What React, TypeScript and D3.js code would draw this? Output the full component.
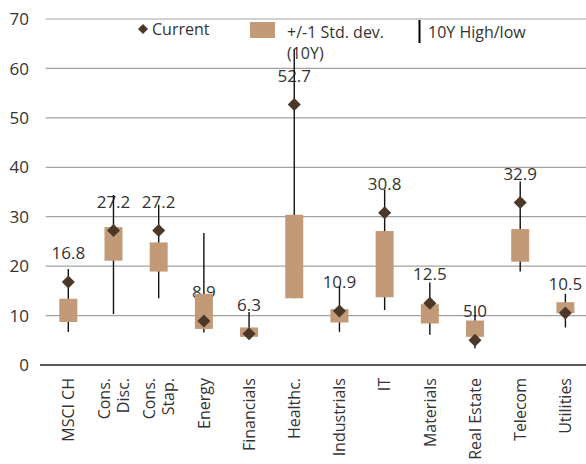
import React from "react";
import * as d3 from "d3";

// Sector P/E ranges: current value, +/-1 std. dev. band and 10Y high/low
const categories = [
  "MSCI CH", "Cons. Disc.", "Cons. Stap.", "Energy", "Financials", "Healthc.",
  "Industrials", "IT", "Materials", "Real Estate", "Telecom", "Utilities",
];
const current = [16.8, 27.2, 27.2, 8.9, 6.3, 52.7, 10.9, 30.8, 12.5, 5.0, 32.9, 10.5];
const sdHigh = [13.4, 27.9, 24.8, 14.4, 7.6, 30.4, 11.3, 27.1, 12.3, 9.0, 27.5, 12.7];
const sdLow = [8.7, 21.1, 18.9, 7.3, 5.7, 13.5, 8.6, 13.7, 8.4, 5.7, 20.9, 10.5];
const high10y = [19.4, 34.4, 32.4, 26.7, 10.7, 63.8, 15.9, 35.5, 16.7, 12.0, 37.1, 14.4];
const low10y = [6.7, 10.3, 13.5, 6.6, 5.5, 13.5, 6.7, 11.1, 6.1, 3.4, 18.9, 7.6];
const yTicks = [0, 10, 20, 30, 40, 50, 60, 70];

const W = 586;
const H = 464;
const FONT = "'Open Sans', 'Noto Sans', sans-serif";
const TEXT = "#333333";
const BOX = "#c39a78";
const DOT = "#4b3828";

export default function App() {
  const x = d3.scaleBand<string>().domain(categories).range([45.7, 588]).paddingInner(0).paddingOuter(0);
  const y = d3.scaleLinear().domain([0, 70]).range([365, 19]);
  const boxW = 18;
  const half = 6.5;
  const diamond = (cx: number, cy: number) =>
    `M${cx},${cy - half}L${cx + half},${cy}L${cx},${cy + half}L${cx - half},${cy}Z`;
  const cxOf = (c: string) => (x(c) ?? 0) + x.bandwidth() / 2;

  return (
    <div style={{ position: "absolute", left: 0, top: 0 }}>
      <svg width={W} height={H} style={{ display: "block", background: "#fff" }} fontFamily={FONT}>
        {/* gridlines and y tick labels */}
        {yTicks.map((t) => (
          <g key={t}>
            <line
              x1={t === 0 ? 40 : 45.7}
              x2={W}
              y1={y(t)}
              y2={y(t)}
              stroke={t === 0 ? "#222" : "#a3a3a3"}
              strokeWidth={t === 0 ? 1.6 : 1.2}
            />
            <text x={29} y={y(t)} dy="0.36em" textAnchor="end" fontSize={17} fill={TEXT}>
              {t}
            </text>
          </g>
        ))}

        {/* legend */}
        <path d={`M143,24L148,29L143,34L138,29Z`} fill={DOT} />
        <text x={152} y={35} fontSize={16} fill={TEXT}>Current</text>
        <rect x={250} y={22} width={25} height={16} fill={BOX} />
        <text x={287} y={37.5} fontSize={16} fill={TEXT}>
          <tspan x={287}>+/-1 Std. dev.</tspan>
          <tspan x={287} dy={21}>(10Y)</tspan>
        </text>
        <line x1={419.5} x2={419.5} y1={20} y2={43} stroke="#000" strokeWidth={2} />
        <text x={428} y={38} fontSize={16} fill={TEXT}>10Y High/low</text>

        {/* value labels */}
        {categories.map((c, i) => (
          <text
            key={`v-${c}`}
            x={cxOf(c)}
            y={y(current[i]) - 29}
            dy="0.36em"
            textAnchor="middle"
            fontSize={17}
            fill={TEXT}
          >
            {current[i].toFixed(1)}
          </text>
        ))}

        {/* 10Y high/low whiskers */}
        {categories.map((c, i) => (
          <line
            key={`w-${c}`}
            x1={cxOf(c)}
            x2={cxOf(c)}
            y1={y(high10y[i])}
            y2={y(low10y[i])}
            stroke="#111"
            strokeWidth={1.4}
          />
        ))}

        {/* +/-1 std. dev. boxes */}
        {categories.map((c, i) => (
          <rect
            key={`b-${c}`}
            x={cxOf(c) - boxW / 2}
            y={y(sdHigh[i])}
            width={boxW}
            height={y(sdLow[i]) - y(sdHigh[i])}
            fill={BOX}
          />
        ))}

        {/* current values */}
        {categories.map((c, i) => (
          <path key={`d-${c}`} d={diamond(cxOf(c), y(current[i]))} fill={DOT} />
        ))}

        {/* category labels */}
        {categories.map((c) => {
          const lines = c.startsWith("Cons.") ? c.split(" ") : [c];
          const cx = cxOf(c);
          const off = -((lines.length - 1) * 19) / 2;
          return (
            <text
              key={`x-${c}`}
              transform={`translate(${cx},378) rotate(-90)`}
              textAnchor="end"
              fontSize={16}
              fill={TEXT}
            >
              {lines.map((l, k) => (
                <tspan key={l} x={0} y={off + k * 19} dy="0.36em">
                  {l}
                </tspan>
              ))}
            </text>
          );
        })}
      </svg>
    </div>
  );
}
